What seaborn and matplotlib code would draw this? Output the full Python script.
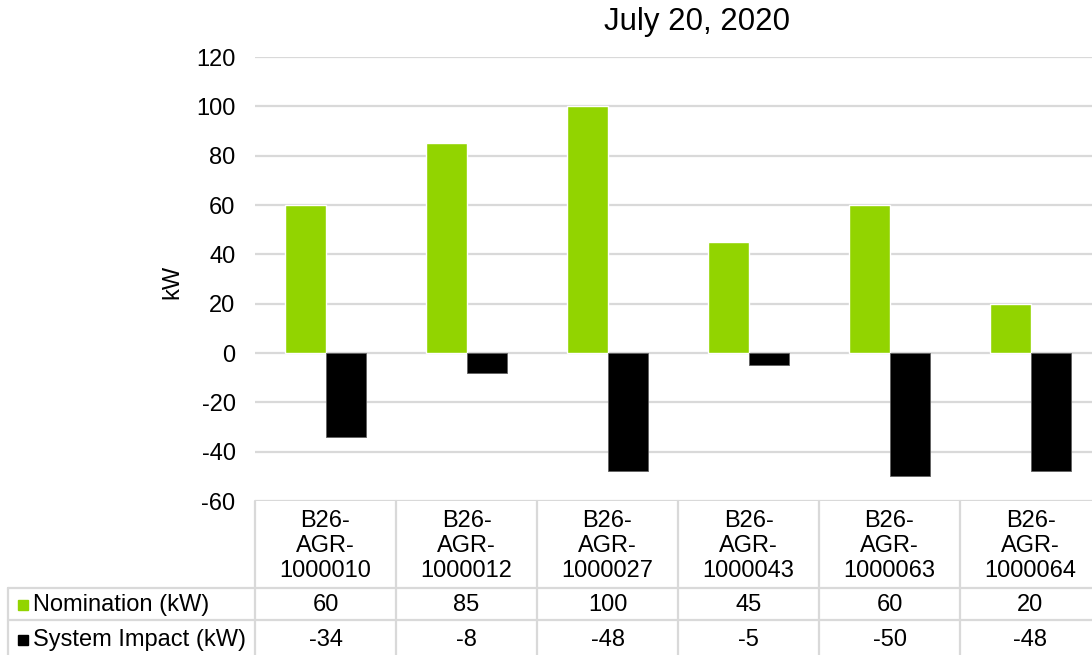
import pandas as pd
import matplotlib.pyplot as plt
import seaborn as sns
from matplotlib.patches import Rectangle

# data
sites = ['B26-AGR-1000010', 'B26-AGR-1000012', 'B26-AGR-1000027',
         'B26-AGR-1000043', 'B26-AGR-1000063', 'B26-AGR-1000064']
nomination = [60, 85, 100, 45, 60, 20]
system_impact = [-34, -8, -48, -5, -50, -48]
series_names = ['Nomination (kW)', 'System Impact (kW)']
colors = ['#92D400', '#000000']

df = pd.DataFrame({
    'site': sites * 2,
    'series': [series_names[0]] * len(sites) + [series_names[1]] * len(sites),
    'kW': nomination + system_impact,
})

W, H = 1092, 655
grid_col = '#d9d9d9'
font = 'Liberation Sans'
fs = 17

sns.set_style('white')
plt.rcParams['font.family'] = [font, 'DejaVu Sans']
plt.rcParams['axes.unicode_minus'] = False
plt.rcParams['text.color'] = 'black'
plt.rcParams['ytick.color'] = 'black'


def px(x, y):
    return x / W, 1 - y / H


fig = plt.figure(figsize=(W / 100, H / 100), dpi=100)
# plot area runs off the right edge, like the cropped original
left, right, top, bottom = 255, 1101, 57, 501
ax = fig.add_axes([left / W, 1 - bottom / H, (right - left) / W, (bottom - top) / H])

sns.barplot(data=df, x='site', y='kW', hue='series', palette=colors,
            width=0.57, saturation=1, legend=False, ax=ax, zorder=3)
for p in ax.patches[len(sites):]:
    p.set_edgecolor('#606060')
    p.set_linewidth(0.6)

ax.set_xlim(-0.5, len(sites) - 0.5)
ax.set_ylim(-60, 120)
ax.set_yticks(range(-60, 121, 20))
ax.set_xticks([])
ax.set_xlabel('')
ax.set_ylabel('')
ax.yaxis.grid(True, color=grid_col, linewidth=1.6, zorder=0)
ax.tick_params(axis='y', length=0, labelsize=fs, pad=14, labelcolor='black')
for s in ax.spines.values():
    s.set_visible(False)

fig.text(*px(697, 22), 'July 20, 2020', fontsize=22.5, ha='center', va='center')
fig.text(*px(172, 282), 'kW', fontsize=fs, rotation=90, ha='center', va='center')

# data table below the plot
cell = (right - left) / len(sites)
line_kw = dict(color=grid_col, linewidth=1.6, transform=fig.transFigure, clip_on=False)
for i in range(len(sites) + 1):
    x = left + i * cell
    fig.add_artist(plt.Line2D([x / W] * 2, [1 - 501 / H, 0], **line_kw))
fig.add_artist(plt.Line2D([8 / W] * 2, [1 - 588 / H, 0], **line_kw))
for y in (588, 620):
    fig.add_artist(plt.Line2D([8 / W, right / W], [1 - y / H] * 2, **line_kw))

for i, name in enumerate(sites):
    cx = left + (i + 0.5) * cell
    fig.text(*px(cx, 546), name.replace('-', '-\n'), fontsize=fs, ha='center',
             va='center', linespacing=1.2)
    fig.text(*px(cx, 605), str(nomination[i]), fontsize=fs, ha='center', va='center')
    fig.text(*px(cx, 640), str(system_impact[i]), fontsize=fs, ha='center', va='center')

for name, col, y in zip(series_names, colors, (605, 640)):
    fig.add_artist(Rectangle(px(18, y + 5), 10 / W, 10 / H, color=col,
                             transform=fig.transFigure))
    fig.text(*px(33, y), name, fontsize=fs, ha='left', va='center')

fig.savefig('out.png', dpi=100)
